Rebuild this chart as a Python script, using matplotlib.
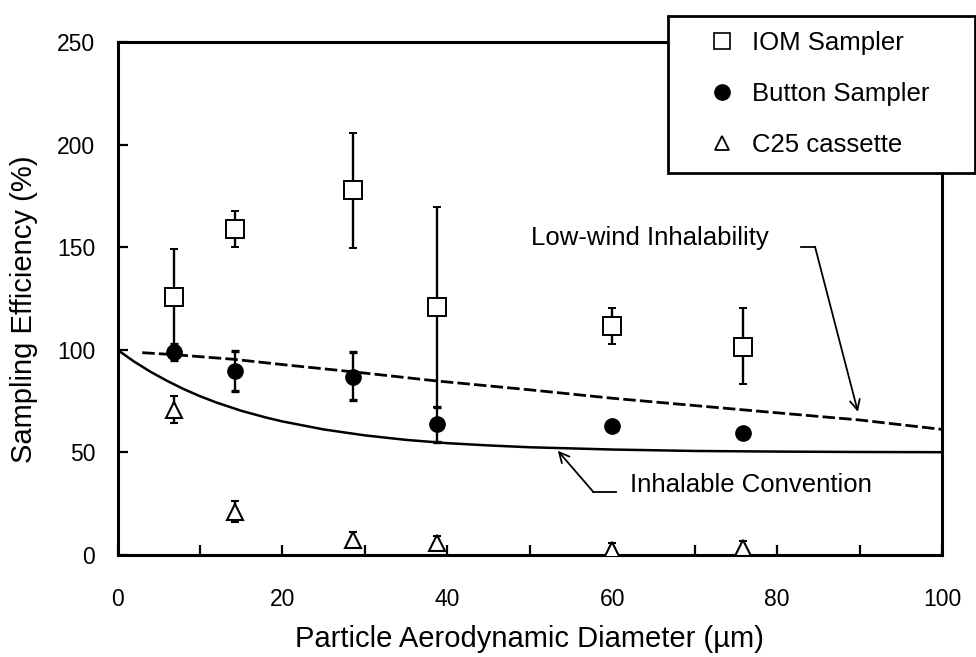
import matplotlib
matplotlib.use("Agg")
import matplotlib.pyplot as plt
import numpy as np
from matplotlib.lines import Line2D

plt.rcParams['font.family'] = ['Liberation Sans', 'DejaVu Sans']

# ---- data ----
diam = [6.9, 14.2, 28.6, 38.7, 60.0, 75.9]

iom = [125.9, 158.9, 177.9, 121.0, 111.6, 101.5]
iom_lo = [100.0, 150.0, 149.5, 72.3, 102.8, 83.3]
iom_hi = [149.0, 167.6, 205.5, 169.7, 120.2, 120.2]

button = [98.8, 89.8, 86.6, 63.8, 62.9, 59.3]
button_lo = [95.0, 80.0, 75.5, 55.2, 62.9, 59.3]
button_hi = [102.6, 99.4, 98.8, 72.3, 62.9, 59.3]

c25 = [70.7, 21.1, 7.3, 6.0, 2.4, 3.4]
c25_lo = [64.5, 16.2, 4.0, 3.5, 2.4, 3.4]
c25_hi = [77.6, 26.5, 11.1, 9.3, 6.0, 7.0]

conv_d = [0, 2, 4, 6, 8, 10, 12, 15, 18, 20, 25, 30, 35, 40, 45, 50, 60, 70, 80, 90, 100]
conv_e = [100, 94.3, 89.3, 84.9, 80.9, 77.4, 74.3, 70.3, 67.0, 65.1, 61.2, 58.3,
          56.1, 54.5, 53.4, 52.5, 51.4, 50.7, 50.4, 50.2, 50.1]

low_d = [3, 7, 14, 20, 28.5, 38.5, 50, 60, 76, 90, 100]
low_e = [98.6, 97.6, 95.4, 92.8, 89.3, 84.9, 80.5, 76.4, 70.7, 65.8, 61.2]

xticks = [0, 20, 40, 60, 80, 100]
yticks = [0, 50, 100, 150, 200, 250]
labels = ['IOM Sampler', 'Button Sampler', 'C25 cassette']

# ---- figure ----
W, H = 976, 657
fig = plt.figure(figsize=(W / 100, H / 100), dpi=100)
ax = fig.add_axes([117.5 / W, 1 - 555 / H, (942 - 117.5) / W, (555 - 42) / H])

ax.plot(conv_d, conv_e, color='black', lw=1.8, zorder=2)
ax.plot(low_d, low_e, color='black', lw=2.0, dashes=(4.5, 1.5), zorder=2)

def eb(y, lo, hi, **kw):
    y = np.array(y); lo = np.array(lo); hi = np.array(hi)
    ax.errorbar(diam, y, yerr=[y - lo, hi - y], ls='none', ecolor='black',
                elinewidth=1.7, capsize=3.2, capthick=2.4, zorder=3, **kw)

eb(iom, iom_lo, iom_hi, marker='s', ms=12.5, mfc='white', mec='black', mew=1.4)
eb(button, button_lo, button_hi, marker='o', ms=11, mfc='black', mec='black')
eb(c25, c25_lo, c25_hi, marker='^', ms=11.5, mfc='white', mec='black', mew=1.5)

ax.set_xlim(0, 100)
ax.set_ylim(0, 250)
ax.set_xticks(xticks)
ax.set_xticks(np.arange(0, 101, 10), minor=True)
ax.set_yticks(yticks)
ax.tick_params(axis='x', which='both', direction='in', length=7, width=1.6,
               labelsize=16.5, pad=24)
ax.tick_params(axis='y', direction='in', length=7, width=1.6, labelsize=16.5, pad=16)
for s in ax.spines.values():
    s.set_linewidth(2.2)

ax.set_xlabel('Particle Aerodynamic Diameter (µm)', fontsize=21, va='center')
ax.set_ylabel('Sampling Efficiency (%)', fontsize=21, va='center')
ax.xaxis.set_label_coords(0.5, -0.163)
ax.yaxis.set_label_coords(-0.113, 0.48)

# annotations
ax.text(50.2, 154.5, 'Low-wind Inhalability', fontsize=18.5, va='center', ha='left')
ax.plot([82.9, 84.6], [150.2, 150.2], color='black', lw=1.3)
ax.annotate('', xy=(89.8, 69.8), xytext=(84.6, 150.2),
            arrowprops=dict(arrowstyle='->', color='black', lw=1.3,
                            shrinkA=0, shrinkB=0, mutation_scale=18))

ax.text(62.2, 34.1, 'Inhalable Convention', fontsize=18.5, va='center', ha='left')
ax.plot([60.5, 57.7], [30.8, 30.8], color='black', lw=1.3)
ax.annotate('', xy=(53.4, 50.8), xytext=(57.7, 30.8),
            arrowprops=dict(arrowstyle='->', color='black', lw=1.3,
                            shrinkA=0, shrinkB=0, mutation_scale=18))

# legend
handles = [
    Line2D([], [], ls='none', marker='s', ms=11, mfc='white', mec='black', mew=1.2),
    Line2D([], [], ls='none', marker='o', ms=11, mfc='black', mec='black'),
    Line2D([], [], ls='none', marker='^', ms=10.5, mfc='white', mec='black', mew=1.3),
]
leg = fig.legend(handles, labels, loc='upper left',
                 bbox_to_anchor=(668 / W, 0, (975 - 668) / W, 1 - 16 / H),
                 bbox_transform=fig.transFigure, mode='expand', borderaxespad=0,
                 fontsize=18.5, frameon=True, fancybox=False, framealpha=1,
                 edgecolor='black', borderpad=0.6, labelspacing=1.05,
                 handlelength=3.0, handletextpad=-0.35, numpoints=1)
leg.get_frame().set_linewidth(2.0)

fig.savefig('out.png', dpi=100)
